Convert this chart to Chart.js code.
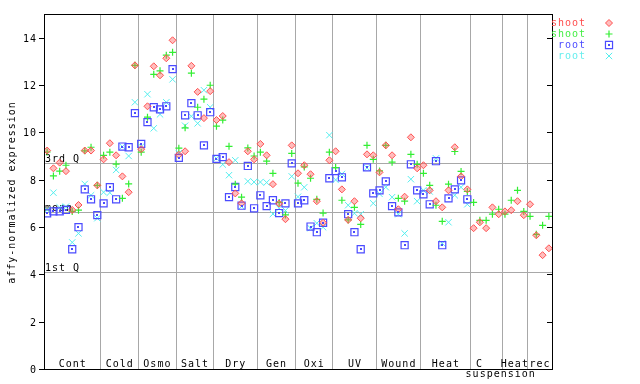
<!DOCTYPE html>
<html><head><meta charset="utf-8">
<script src="https://cdn.jsdelivr.net/npm/chart.js@4/dist/chart.umd.min.js"></script>
<style>html,body{margin:0;padding:0;background:#fff}canvas{display:block}</style>
</head><body>
<canvas id="c" width="640" height="384"></canvas>
<script>
// ---- data ----
const groupNames = ["Cont","Cold","Osmo","Salt","Dry","Gen","Oxi","UV","Wound","Heat",["C  ","    suspension"],"Heat","rec"];
const groupSizes = [9,6,6,6,7,6,6,7,7,8,5,4,4];
const yTicks = [0,2,4,6,8,10,12,14];
const qValues = [8.69, 6.64, 4.09];
const qLabels = ["3rd Q","mean","1st Q"];
const seriesLabels = ["shoot","shoot","root","root"];

const shootRed = [9.23,8.48,8.72,8.36,6.72,6.93,9.23,9.23,7.76,
 8.86,9.54,9.03,8.14,7.47,12.83,
 9.29,11.1,12.79,12.41,13.13,13.89,
 9.05,9.2,12.81,11.71,10.6,11.74,
 10.52,10.69,8.74,7.42,7.0,9.2,8.86,
 9.51,9.03,7.81,6.99,6.33,9.45,
 8.27,8.61,8.23,7.09,6.18,8.82,
 9.2,7.59,6.3,7.09,6.37,9.07,9.03,
 8.31,9.45,9.03,6.75,7.28,9.79,8.48,
 8.61,7.55,7.09,6.83,7.55,9.37,8.14,7.59,
 5.95,6.2,5.95,6.83,6.54,
 6.66,6.71,7.09,6.5,
 6.96,5.65,4.81,5.1];
const shootGreen = [9.17,8.16,8.36,8.61,6.66,6.71,9.22,9.37,7.76,
 9.03,9.16,8.66,7.21,7.82,12.83,
 9.16,10.64,12.45,12.6,13.26,13.38,
 9.33,10.19,12.5,11.06,11.4,11.99,
 10.26,10.52,9.41,7.81,7.26,9.34,9.0,
 9.16,8.78,8.27,7.04,6.51,9.11,
 7.85,8.54,8.06,7.17,6.59,9.16,
 8.51,7.13,6.3,6.83,6.11,9.45,8.86,
 8.37,9.45,8.74,7.21,7.09,9.07,8.65,
 8.27,7.76,6.92,6.24,7.81,9.19,8.35,7.5,
 7.04,6.28,6.28,6.54,6.75,
 6.54,7.13,7.55,6.66,
 6.45,5.69,6.07,6.45];
const rootBlue = [6.58,6.66,6.66,6.72,5.06,5.99,7.59,7.17,6.5,
 7.0,7.68,7.17,9.4,9.37,10.81,
 9.51,10.43,11.06,10.97,11.1,12.67,
 8.92,10.72,11.23,10.72,9.45,10.85,
 8.88,8.95,7.26,7.69,6.9,8.58,6.79,
 7.34,6.88,7.13,6.59,7.0,8.69,
 7.0,7.13,6.02,5.78,6.18,8.06,
 8.36,8.1,6.54,5.78,5.06,8.52,7.42,
 7.55,7.93,6.88,6.62,5.23,8.65,7.55,
 7.38,6.96,8.78,5.23,7.21,7.59,7.97,7.17,
 null,null,null,null,null,
 null,null,null,null,
 null,null,null,null];
const rootCyan = [6.72,7.45,6.83,6.86,5.35,5.73,7.82,7.34,6.37,
 7.47,7.45,8.41,9.4,9.0,11.27,
 9.4,11.61,10.17,10.76,11.27,12.24,
 9.12,10.28,10.68,10.38,11.78,11.06,
 8.9,8.64,8.19,8.82,6.87,7.93,7.9,
 7.9,7.88,6.55,6.79,6.7,8.14,
 7.28,7.68,5.95,6.16,5.99,9.88,
 7.99,8.24,6.92,6.58,6.54,8.5,7.0,
 7.4,7.68,7.26,6.54,5.73,8.02,7.09,
 7.55,7.5,8.9,5.31,6.2,7.34,7.68,6.96,
 null,null,null,null,null,
 null,null,null,null,
 null,null,null,null];

// ---- build ----
const nSamples = groupSizes.reduce((a,b)=>a+b,0);
function pts(arr){ const out=[]; arr.forEach((v,i)=>{ if(v!==null) out.push({x:i+0.5,y:v}); }); return out; }
const boundaries = []; { let c=0; groupSizes.forEach(s=>{ c+=s; boundaries.push(c); }); }

const FONT = '10px "DejaVu Sans Mono", monospace';
function setFont(ctx){ ctx.font = FONT; try{ ctx.letterSpacing='1px'; }catch(e){} }

const styles = [
 {pointStyle:'rectRot', pointRadius:3.5, backgroundColor:'rgba(255,90,90,0.4)', borderColor:'#ff5050', borderWidth:1, text:'#ff4d4d', dot:false},
 {pointStyle:'cross', pointRadius:3.5, backgroundColor:'#33ee33', borderColor:'#33ee33', borderWidth:1.2, text:'#44ee44', dot:false},
 {pointStyle:'rect', pointRadius:5, backgroundColor:'rgba(0,0,0,0)', borderColor:'#4b4bff', borderWidth:1.2, text:'#4b4bff', dot:true},
 {pointStyle:'crossRot', pointRadius:4.5, backgroundColor:'#55eeee', borderColor:'#55eeee', borderWidth:1, text:'#66eeee', dot:false}
];
const allData = [shootRed, shootGreen, rootBlue, rootCyan];
const datasets = allData.map((arr,k)=>({
  label: seriesLabels[k], data: pts(arr), showLine:false,
  pointStyle: styles[k].pointStyle, pointRadius: styles[k].pointRadius,
  backgroundColor: styles[k].backgroundColor, borderColor: styles[k].borderColor,
  borderWidth: styles[k].borderWidth, pointBorderWidth: styles[k].borderWidth
}));

const decor = {
  id:'decor',
  beforeDatasetsDraw(chart){
    const {ctx, chartArea:a, scales:{x,y}} = chart;
    ctx.save();
    ctx.strokeStyle='#a8a8a8'; ctx.lineWidth=1;
    boundaries.slice(0,-1).forEach(b=>{
      const px=Math.round(x.getPixelForValue(b))+0.5;
      ctx.beginPath(); ctx.moveTo(px,a.top); ctx.lineTo(px,a.bottom); ctx.stroke();
    });
    qValues.forEach(q=>{
      const py=Math.round(y.getPixelForValue(q))+0.5;
      ctx.beginPath(); ctx.moveTo(a.left,py); ctx.lineTo(a.right,py); ctx.stroke();
    });
    setFont(ctx); ctx.fillStyle='#000'; ctx.textAlign='left'; ctx.textBaseline='alphabetic';
    qValues.forEach((q,i)=>{
      const py=Math.round(y.getPixelForValue(q));
      ctx.fillText(qLabels[i], a.left+1, py-1);
    });
    ctx.restore();
  },
  afterDatasetsDraw(chart){
    const ctx = chart.ctx;
    ctx.save();
    styles.forEach((st,k)=>{
      if(!st.dot) return;
      ctx.fillStyle = st.borderColor;
      chart.getDatasetMeta(k).data.forEach(el=>{
        ctx.fillRect(Math.round(el.x)-1, Math.round(el.y)-1, 2, 2);
      });
    });
    ctx.restore();
  },
  afterDraw(chart){
    const {ctx, chartArea:a, scales:{x,y}} = chart;
    ctx.save();
    ctx.strokeStyle='#000'; ctx.lineWidth=1;
    ctx.strokeRect(Math.round(a.left)+0.5, Math.round(a.top)+0.5, Math.round(a.right-a.left), Math.round(a.bottom-a.top));
    setFont(ctx); ctx.fillStyle='#000';
    yTicks.forEach(t=>{
      const py=Math.round(y.getPixelForValue(t))+0.5;
      ctx.beginPath(); ctx.moveTo(a.left-5,py); ctx.lineTo(a.left,py); ctx.stroke();
      ctx.beginPath(); ctx.moveTo(a.right-5,py); ctx.lineTo(a.right,py); ctx.stroke();
      ctx.textAlign='right'; ctx.textBaseline='middle';
      ctx.fillText(String(t), a.left-7, py+0.5);
    });
    ctx.textAlign='center'; ctx.textBaseline='alphabetic';
    let start=0;
    groupSizes.forEach((s,i)=>{
      const cx=(x.getPixelForValue(start)+x.getPixelForValue(start+s))/2;
      const lines=Array.isArray(groupNames[i])?groupNames[i]:[groupNames[i]];
      lines.forEach((ln,j)=>ctx.fillText(ln, cx+0.5, a.bottom-2+j*10));
      start+=s;
    });
    ctx.save();
    ctx.translate(15, (a.top+a.bottom)/2+1);
    ctx.rotate(-Math.PI/2);
    ctx.textAlign='center'; ctx.textBaseline='alphabetic';
    ctx.fillText('affy-normalized expression', 0, 0);
    ctx.restore();
    seriesLabels.forEach((lab,k)=>{
      const ly = 26 + k*11;
      ctx.fillStyle = styles[k].text; ctx.textAlign='right'; ctx.textBaseline='alphabetic';
      ctx.fillText(lab, 586, ly);
      ctx.strokeStyle = styles[k].borderColor; ctx.fillStyle = styles[k].backgroundColor;
      ctx.lineWidth = styles[k].borderWidth;
      Chart.helpers.drawPoint(ctx, {pointStyle: styles[k].pointStyle, radius: styles[k].pointRadius, rotation:0, borderWidth: styles[k].borderWidth}, 609, ly-3);
      if(styles[k].dot){ ctx.fillStyle=styles[k].borderColor; ctx.fillRect(608, ly-4, 2, 2); }
    });
    ctx.restore();
  }
};

new Chart(document.getElementById('c'), {
  type:'scatter',
  data:{datasets},
  options:{
    responsive:false, animation:false, devicePixelRatio:1,
    layout:{padding:{left:44,right:88,top:14,bottom:15}},
    plugins:{legend:{display:false}, tooltip:{enabled:false}},
    scales:{
      x:{type:'linear', min:0, max:nSamples, display:false},
      y:{type:'linear', min:0, max:15, display:false}
    }
  },
  plugins:[decor]
});
</script>
</body></html>
